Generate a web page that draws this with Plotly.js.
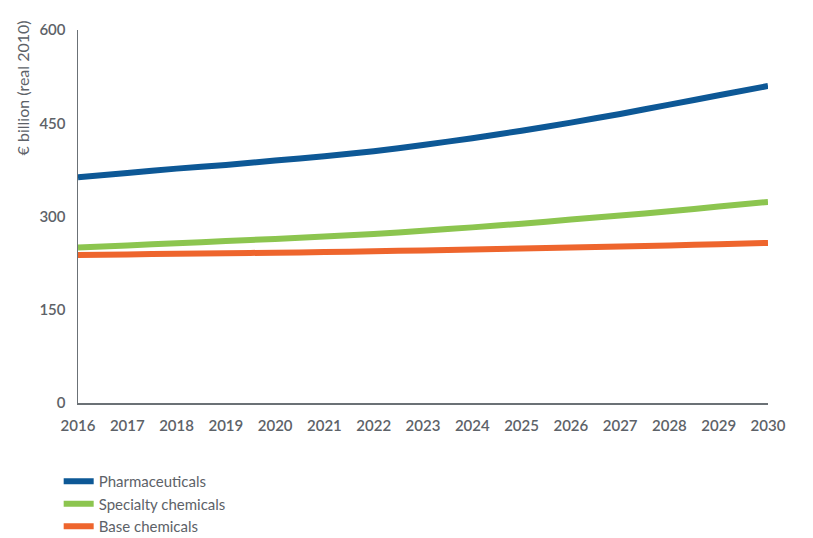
<!DOCTYPE html>
<html>
<head>
<meta charset="utf-8">
<script src="https://cdn.plot.ly/plotly-3.0.1.min.js"></script>
<style>html,body{margin:0;padding:0;background:#fff;}#chart{width:813px;height:538px;}</style>
</head>
<body>
<div id="chart"></div>
<script>
const years = [2016,2017,2018,2019,2020,2021,2022,2023,2024,2025,2026,2027,2028,2029,2030];
const pharmaceuticals = [363,370,377,383,390,397,405,415,426,438,451,465,480,495,510];
const specialtyChemicals = [250,253.5,257,260.5,264,268,272,277,282.5,288.5,295,301.5,308.5,316,323.5];
const baseChemicals = [238,239,240,241,241.8,242.8,244,245.5,247,248.5,250,251.8,253.5,255.5,257.5];
const seriesNames = ['Pharmaceuticals','Specialty chemicals','Base chemicals'];
const yTicks = [0,150,300,450,600];

const colors = ['#0d5896','#8cc54f','#ee652d'];
const FONT = 'Lato, "Open Sans", sans-serif';
const GRAY = '#5d6268';

const traces = [pharmaceuticals, specialtyChemicals, baseChemicals].map((vals, i) => ({
  x: years, y: vals, name: seriesNames[i], type: 'scatter', mode: 'lines',
  line: {color: colors[i], width: 6, shape: 'spline', smoothing: 0.6},
  cliponaxis: false
}));

const layout = {
  width: 813, height: 538,
  margin: {l: 77.5, r: 44.5, t: 29.5, b: 135, autoexpand: false},
  paper_bgcolor: '#fff', plot_bgcolor: '#fff',
  font: {family: FONT, color: GRAY, size: 15},
  showlegend: true,
  legend: {
    orientation: 'v', x: -0.028, xanchor: 'left', y: -0.166, yanchor: 'top',
    font: {family: FONT, size: 15, color: GRAY}, itemwidth: 30, tracegroupgap: 0,
    bgcolor: 'rgba(0,0,0,0)'
  },
  xaxis: {
    range: [2016, 2030], tickmode: 'array', tickvals: years, ticktext: years.map(String),
    showgrid: false, zeroline: false, showline: true, linecolor: '#6b7176', linewidth: 1.5,
    ticks: '', ticklabelstandoff: 8,
    tickfont: {family: FONT, size: 15, color: GRAY, weight: 600}
  },
  yaxis: {
    range: [0, 600], tickmode: 'array', tickvals: yTicks, ticktext: yTicks.map(String),
    showgrid: false, zeroline: false, showline: true, linecolor: '#6b7176', linewidth: 1.5,
    ticks: '', ticklabelstandoff: 8,
    tickfont: {family: FONT, size: 15, color: GRAY, weight: 600}
  },
  annotations: [{
    text: '€ billion (real 2010)', xref: 'paper', yref: 'paper',
    x: -0.081, y: 1.03, xanchor: 'center', yanchor: 'top', textangle: -90,
    showarrow: false, font: {family: FONT, size: 16, color: GRAY}
  }]
};

Plotly.newPlot('chart', traces, layout, {displayModeBar: false, staticPlot: true});
</script>
</body>
</html>
